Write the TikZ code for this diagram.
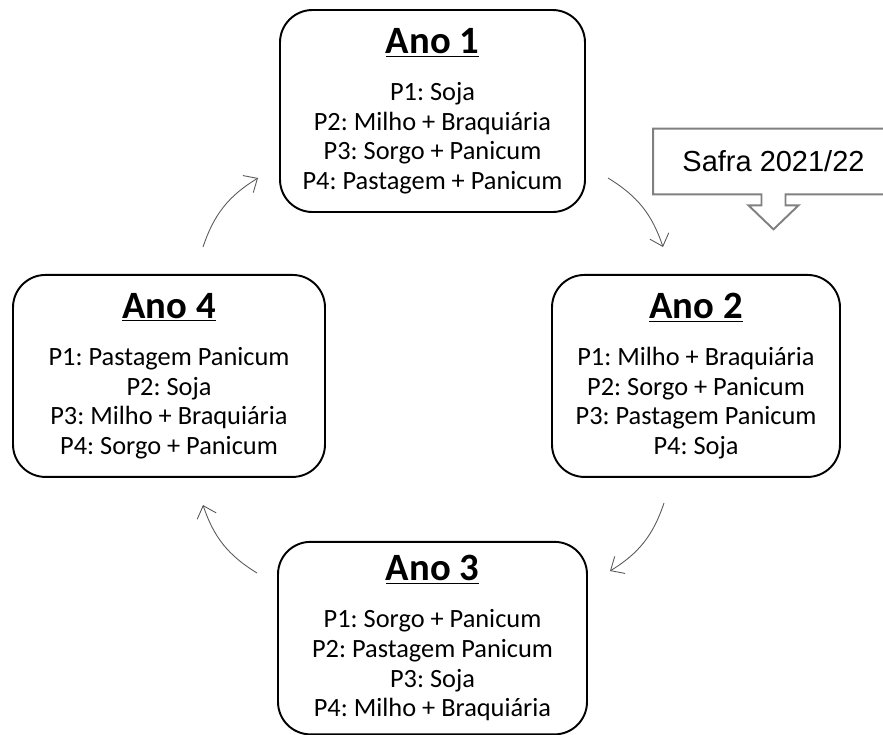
\documentclass[tikz,border=0pt]{standalone}
\usepackage{fontspec}
\setmainfont{Carlito}
\newfontfamily\safrafont{Liberation Sans}
\usetikzlibrary{positioning, calc, arrows.meta}
\frenchspacing

\newcommand{\anotitle}[1]{{\fontsize{22}{22}\selectfont\bfseries\underline{#1}}}

\begin{document}
\begin{tikzpicture}[
    node distance=1.22cm and 2cm,
    yearbox/.style={rectangle, draw, line width=1.1pt, rounded corners=0.65cm, align=center, minimum width=6.1cm, minimum height=4.04cm, font=\fontsize{15}{16.9}\selectfont},
    cycleline/.style={draw, black!65, line width=0.5pt, -{Straight Barb[length=2.2mm, width=4mm]}, bend left=20},
    safrabox/.style={rectangle, minimum width=4.8cm, minimum height=1.3cm, font=\safrafont\fontsize{16.5}{16.5}\selectfont}
]
    \useasboundingbox (0,0) rectangle (17.66,-14.68);

    % Year boxes
    \node[yearbox] (ano1) at (8.65,-2.22) {\anotitle{Ano 1}\\[10pt]
        P1: Soja\\ P2: Milho + Braquiária\\ P3: Sorgo + Panicum\\ P4: Pastagem + Panicum};
    \node[yearbox, below=1.22cm of ano1, xshift=5.27cm, minimum width=5.76cm] (ano2) {\anotitle{Ano 2}\\[10pt]
        P1: Milho + Braquiária\\ P2: Sorgo + Panicum\\ P3: Pastagem Panicum\\ P4: Soja};
    \node[yearbox, below=1.22cm of ano1, xshift=-5.27cm, minimum width=6.24cm] (ano4) {\anotitle{Ano 4}\\[10pt]
        P1: Pastagem Panicum\\ P2: Soja\\ P3: Milho + Braquiária\\ P4: Sorgo + Panicum};
    \node[yearbox, below=1.26cm of ano2, xshift=-5.27cm, minimum width=6.18cm, minimum height=3.85cm] (ano3) {\anotitle{Ano 3}\\[10pt]
        P1: Sorgo + Panicum\\ P2: Pastagem Panicum\\ P3: Soja\\ P4: Milho + Braquiária};

    % Callout
    \node[safrabox] (safra) at (15.47,-3.23) {Safra 2021/22};
    \draw[gray, line width=1.1pt] (safra.south west) -- (safra.north west) -- (safra.north east) -- (safra.south east)
        -- ([xshift=0.24cm]safra.south) -- ++(0,-0.22) -- ++(0.26,0) -- ++(-0.5,-0.48) -- ++(-0.5,0.48) -- ++(0.26,0) -- ++(0,0.22) -- cycle;

    % Cycle arrows
    \coordinate (c12a) at (12.16,-3.56);
    \coordinate (c12b) at (13.26,-4.94);
    \coordinate (c23a) at (13.28,-10.06);
    \coordinate (c23b) at (12.2,-11.42);
    \coordinate (c34a) at (5.14,-11.46);
    \coordinate (c34b) at (4.06,-10.1);
    \coordinate (c41a) at (4.06,-4.94);
    \coordinate (c41b) at (5.16,-3.56);
    \path[cycleline] (c12a) to (c12b);
    \path[cycleline] (c23a) to (c23b);
    \path[cycleline] (c34a) to (c34b);
    \path[cycleline] (c41a) to (c41b);

\end{tikzpicture}
\end{document}
